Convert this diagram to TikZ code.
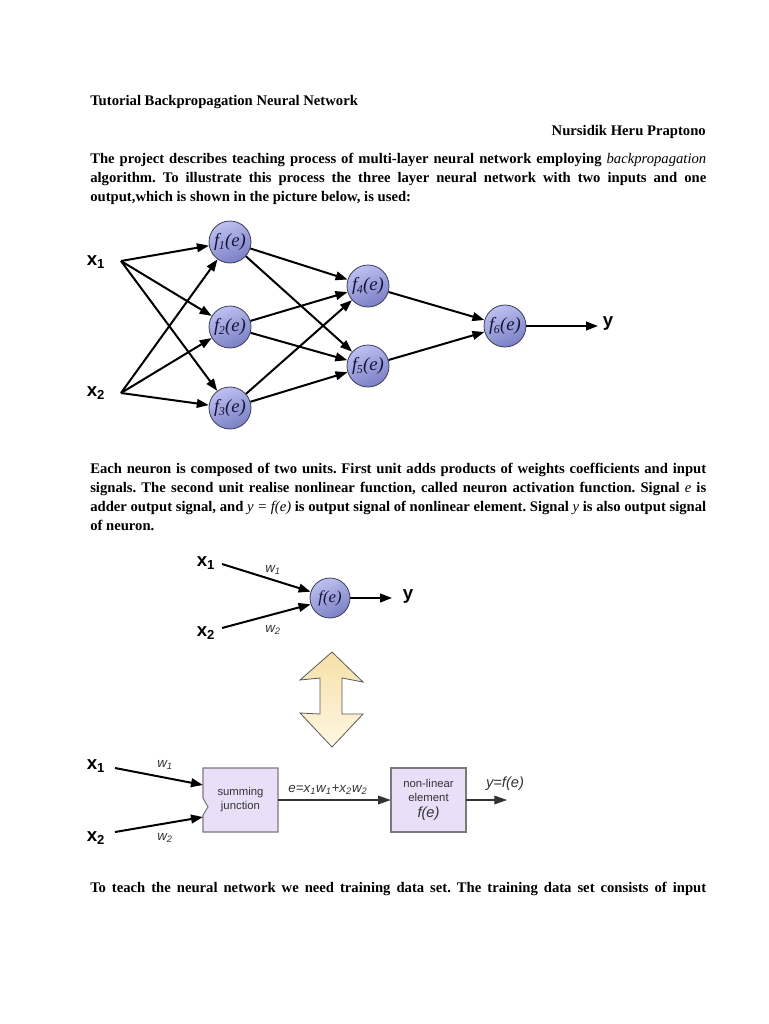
\documentclass[tikz,border=0pt]{standalone}
\usepackage{fontspec}
\setmainfont{Liberation Serif}
\setsansfont{Liberation Sans}
\usetikzlibrary{arrows.meta,calc}
\definecolor{neuronA}{HTML}{BDC0F0}
\definecolor{neuronB}{HTML}{7A80C4}
\definecolor{neuronEdge}{HTML}{3C3C58}
\definecolor{neuronText}{HTML}{15153A}
\definecolor{boxFill}{HTML}{EADFF8}
\definecolor{boxEdge}{HTML}{7A7A7A}
\definecolor{dblA}{HTML}{FFF7E2}
\definecolor{dblB}{HTML}{F6E0A8}
\definecolor{boxText}{HTML}{333333}
\newcommand{\nsub}[1]{\kern-0.3pt\raisebox{-2.2pt}{\fontsize{9}{9}\selectfont #1}\kern0.3pt}
\begin{document}
\frenchspacing
\begin{tikzpicture}[x=0.75pt,y=-0.75pt,
  bodyline/.style={anchor=base west, inner sep=0pt, font=\bfseries\fontsize{11}{14}\selectfont},
  neuron/.style={circle, draw=neuronEdge, line width=0.6pt, minimum size=31.5pt, inner sep=0pt,
    top color=neuronA, bottom color=neuronB, shading angle=25,
    font=\itshape\fontsize{14}{14}\selectfont, text=neuronText},
  inlabel/.style={inner sep=0pt, font=\sffamily\bfseries\fontsize{14}{14}\selectfont},
  wlabel/.style={inner sep=0pt, font=\sffamily\itshape\fontsize{10}{10}\selectfont, text=boxText},
  arr/.style={line width=1.5pt, -{Triangle[length=9pt,width=6.5pt]}},
  thinarr/.style={line width=0.9pt, draw=black!80, -{Triangle[length=9.5pt,width=6.5pt]}},
  procbox/.style={inner sep=0pt, minimum width=56.25pt, minimum height=48pt, align=center,
    font=\sffamily\fontsize{8.5}{10.5}\selectfont, text=boxText}
]
\useasboundingbox (0,0) rectangle (768,1024);
\fill[white] (0,0) rectangle (768,1024);

% ---------- text ----------
\node[bodyline] (title) at (90,105) {Tutorial Backpropagation Neural Network};
\node[bodyline, anchor=base east] (author) at (706,135) {Nursidik Heru Praptono};
\node[bodyline] (p1a) at (90,163) {\makebox[462pt][s]{The project describes teaching process of multi-layer neural network employing {\mdseries\itshape backpropagation}}};
\node[bodyline] (p1b) at (90,182) {\makebox[462pt][s]{algorithm. To illustrate this process the three layer neural network with two inputs and one}};
\node[bodyline] (p1c) at (90,201) {output,which is shown in the picture below, is used:};

\node[bodyline] (p2a) at (90,473) {\makebox[462pt][s]{Each neuron is composed of two units. First unit adds products of weights coefficients and input}};
\node[bodyline] (p2b) at (90,492) {\makebox[462pt][s]{signals. The second unit realise nonlinear function, called neuron activation function. Signal {\mdseries\itshape e} is}};
\node[bodyline] (p2c) at (90,511) {\makebox[462pt][s]{adder output signal, and {\mdseries\itshape y = f(e)} is output signal of nonlinear element. Signal {\mdseries\itshape y} is also output signal}};
\node[bodyline] (p2d) at (90,530) {of neuron.};

\node[bodyline] (p3a) at (90,892) {\makebox[462pt][s]{To teach the neural network we need training data set. The training data set consists of input}};

% ---------- network ----------
\node[inlabel] (x1) at (96,262) {x\textsubscript{1}};
\node[inlabel] (x2) at (96,393) {x\textsubscript{2}};
\coordinate (x1s) at (121,261);
\coordinate (x2s) at (121,393);
\node[neuron] (f1) at (230,242) {f\nsub{1}(e)};
\node[neuron] (f2) at (230,327) {f\nsub{2}(e)};
\node[neuron] (f3) at (230,408) {f\nsub{3}(e)};
\node[neuron] (f4) at (368,286) {f\nsub{4}(e)};
\node[neuron] (f5) at (368,366) {f\nsub{5}(e)};
\node[neuron] (f6) at (505,326) {f\nsub{6}(e)};
\coordinate (yend) at (598,326);
\node[inlabel] (ylab) at (608,324) {y};
\foreach \s in {x1s,x2s}{\foreach \t in {f1,f2,f3}{\draw[arr] (\s) -- (\t);}}
\foreach \s in {f1,f2,f3}{\foreach \t in {f4,f5}{\draw[arr] (\s) -- (\t);}}
\draw[arr] (f4) -- (f6);
\draw[arr] (f5) -- (f6);
\draw[arr] (f6) -- (yend);

% ---------- single neuron ----------
\node[inlabel] (sx1) at (206,563) {x\textsubscript{1}};
\node[inlabel] (sx2) at (206,633) {x\textsubscript{2}};
\coordinate (sx1s) at (222,564);
\coordinate (sx2s) at (222,628);
\node[neuron, minimum size=30pt, font=\itshape\fontsize{12.5}{12.5}\selectfont] (fe) at (330,598) {f(e)};
\draw[arr] (sx1s) -- (fe.162);
\draw[arr] (sx2s) -- (fe.198);
\coordinate (syend) at (392,598);
\draw[arr] (fe) -- (syend);
\node[inlabel] (sy) at (408,596) {y};
\node[wlabel] (sw1) at (273,570) {w\textsubscript{1}};
\node[wlabel] (sw2) at (273,630) {w\textsubscript{2}};

% ---------- double arrow ----------
\path[draw=black!65, line width=0.6pt, left color=dblB, right color=dblA, shading angle=0]
  (332,652) -- (363,682) -- (342,678) -- (342,714) -- (363,714) -- (332,747)
  -- (300,713) -- (320,714) -- (320,678) -- (300,680) -- cycle;

% ---------- bottom diagram ----------
\path[draw=boxEdge, line width=0.8pt, fill=boxFill]
  (203,768) -- (278,768) -- (278,832) -- (203,832) -- (203,815) -- (208,807) -- (203,798) -- cycle;
\node[procbox] (sum) at (240.5,800) {summing\\junction};
\path[draw=boxEdge, line width=0.8pt, fill=boxFill] (391,768) rectangle (466,832);
\node[procbox] (nl) at (428.5,800) {non-linear\\element\\[1pt]{\itshape\fontsize{11}{11}\selectfont f(e)}};

\node[inlabel] (bx1) at (96,766) {x\textsubscript{1}};
\node[inlabel] (bx2) at (96,838) {x\textsubscript{2}};
\coordinate (bx1s) at (115,768);
\coordinate (bx2s) at (115,832);
\coordinate (bx1e) at (203,785);
\coordinate (bx2e) at (203,817);
\draw[arr] (bx1s) -- (bx1e);
\draw[arr] (bx2s) -- (bx2e);
\node[wlabel] (bw1) at (165,765) {w\textsubscript{1}};
\node[wlabel] (bw2) at (165,838) {w\textsubscript{2}};

\draw[thinarr] (sum.east) -- (nl.west);
\node[wlabel, font=\sffamily\itshape\fontsize{10}{10}\selectfont] (elab) at (328,790) {e=x\textsubscript{1}w\textsubscript{1}+x\textsubscript{2}w\textsubscript{2}};
\coordinate (nlend) at (507,800);
\draw[thinarr] (nl.east) -- (nlend);
\node[wlabel, font=\sffamily\itshape\fontsize{11}{11}\selectfont] (ylab2) at (505,784) {y=f(e)};
\end{tikzpicture}
\end{document}
